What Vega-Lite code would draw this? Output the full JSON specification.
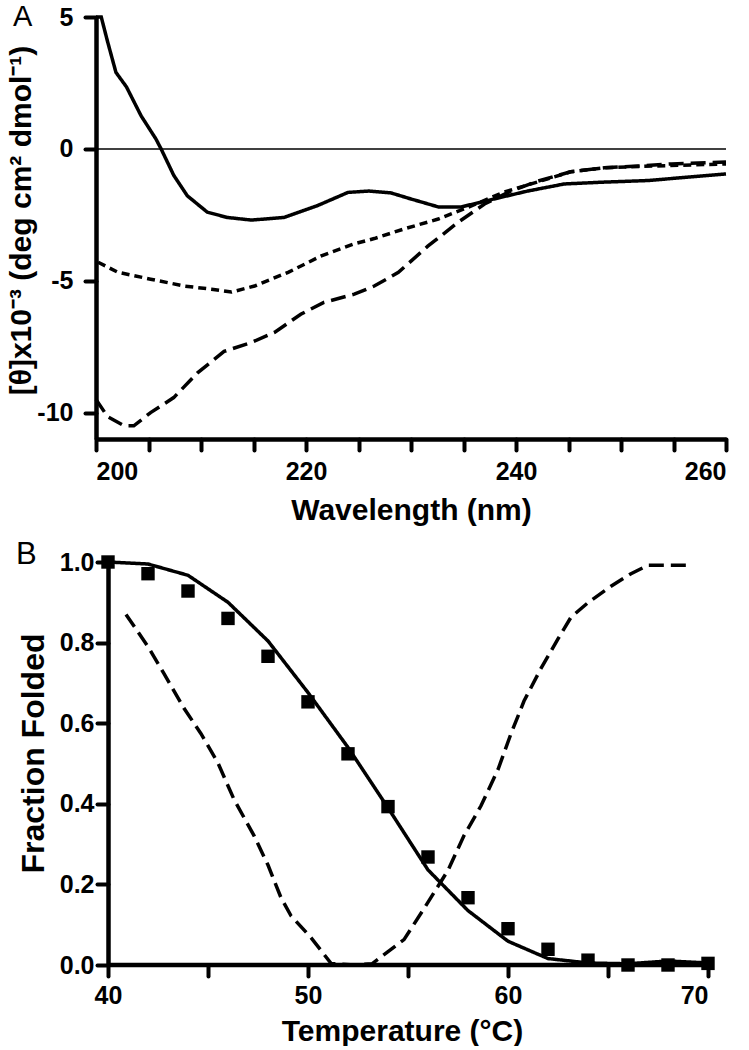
{
  "$schema": "https://vega.github.io/schema/vega-lite/v6.json",
  "background": "white",
  "padding": {"left": 5, "top": 3, "right": 0, "bottom": 0},
  "spacing": 14,
  "config": {
    "view": {"stroke": null},
    "axis": {
      "grid": false,
      "domainColor": "black",
      "domainWidth": 4.5,
      "tickColor": "black",
      "tickWidth": 4,
      "tickSize": 11,
      "tickCap": "round",
      "labelFont": "Liberation Sans",
      "labelFontSize": 25,
      "labelFontWeight": "bold",
      "labelColor": "black",
      "titleFont": "Liberation Sans",
      "titleFontSize": 30,
      "titleFontWeight": "bold",
      "titleColor": "black"
    },
    "title": {"font": "Liberation Sans", "fontWeight": "normal", "color": "black"}
  },
  "datasets": {
    "spectra": [
      {"nm": 200, "theta": 5.0, "series": "solid"},
      {"nm": 200.5, "theta": 5.0, "series": "solid"},
      {"nm": 201.1, "theta": 4.07, "series": "solid"},
      {"nm": 201.9, "theta": 2.9, "series": "solid"},
      {"nm": 202.9, "theta": 2.35, "series": "solid"},
      {"nm": 204.3, "theta": 1.25, "series": "solid"},
      {"nm": 205.7, "theta": 0.38, "series": "solid"},
      {"nm": 206.2, "theta": 0.0, "series": "solid"},
      {"nm": 207.4, "theta": -1.0, "series": "solid"},
      {"nm": 208.7, "theta": -1.78, "series": "solid"},
      {"nm": 210.6, "theta": -2.4, "series": "solid"},
      {"nm": 212.5, "theta": -2.6, "series": "solid"},
      {"nm": 214.8, "theta": -2.7, "series": "solid"},
      {"nm": 217.9, "theta": -2.6, "series": "solid"},
      {"nm": 221.1, "theta": -2.15, "series": "solid"},
      {"nm": 224.0, "theta": -1.65, "series": "solid"},
      {"nm": 226.0, "theta": -1.6, "series": "solid"},
      {"nm": 228.1, "theta": -1.67, "series": "solid"},
      {"nm": 230.0, "theta": -1.9, "series": "solid"},
      {"nm": 232.6, "theta": -2.2, "series": "solid"},
      {"nm": 234.8, "theta": -2.2, "series": "solid"},
      {"nm": 237.9, "theta": -1.9, "series": "solid"},
      {"nm": 241.1, "theta": -1.6, "series": "solid"},
      {"nm": 244.6, "theta": -1.33, "series": "solid"},
      {"nm": 248.4, "theta": -1.26, "series": "solid"},
      {"nm": 252.6, "theta": -1.2, "series": "solid"},
      {"nm": 256.4, "theta": -1.07, "series": "solid"},
      {"nm": 260.0, "theta": -0.95, "series": "solid"},
      {"nm": 200.2, "theta": -4.3, "series": "dotted"},
      {"nm": 202.1, "theta": -4.68, "series": "dotted"},
      {"nm": 205.2, "theta": -4.94, "series": "dotted"},
      {"nm": 208.4, "theta": -5.2, "series": "dotted"},
      {"nm": 211.0, "theta": -5.32, "series": "dotted"},
      {"nm": 212.9, "theta": -5.43, "series": "dotted"},
      {"nm": 215.1, "theta": -5.2, "series": "dotted"},
      {"nm": 218.3, "theta": -4.68, "series": "dotted"},
      {"nm": 221.4, "theta": -4.07, "series": "dotted"},
      {"nm": 224.6, "theta": -3.6, "series": "dotted"},
      {"nm": 226.5, "theta": -3.4, "series": "dotted"},
      {"nm": 229.3, "theta": -3.04, "series": "dotted"},
      {"nm": 232.6, "theta": -2.66, "series": "dotted"},
      {"nm": 235.7, "theta": -2.17, "series": "dotted"},
      {"nm": 238.9, "theta": -1.63, "series": "dotted"},
      {"nm": 242.1, "theta": -1.25, "series": "dotted"},
      {"nm": 245.2, "theta": -0.87, "series": "dotted"},
      {"nm": 248.4, "theta": -0.72, "series": "dotted"},
      {"nm": 253.1, "theta": -0.65, "series": "dotted"},
      {"nm": 260.0, "theta": -0.57, "series": "dotted"},
      {"nm": 200.0, "theta": -9.5, "series": "dashed"},
      {"nm": 201.1, "theta": -10.15, "series": "dashed"},
      {"nm": 202.7, "theta": -10.5, "series": "dashed"},
      {"nm": 203.6, "theta": -10.5, "series": "dashed"},
      {"nm": 205.2, "theta": -10.0, "series": "dashed"},
      {"nm": 207.4, "theta": -9.43, "series": "dashed"},
      {"nm": 209.7, "theta": -8.48, "series": "dashed"},
      {"nm": 212.2, "theta": -7.68, "series": "dashed"},
      {"nm": 214.8, "theta": -7.34, "series": "dashed"},
      {"nm": 217.0, "theta": -6.96, "series": "dashed"},
      {"nm": 219.5, "theta": -6.27, "series": "dashed"},
      {"nm": 221.7, "theta": -5.82, "series": "dashed"},
      {"nm": 224.6, "theta": -5.51, "series": "dashed"},
      {"nm": 226.5, "theta": -5.2, "series": "dashed"},
      {"nm": 228.8, "theta": -4.68, "series": "dashed"},
      {"nm": 231.6, "theta": -3.69, "series": "dashed"},
      {"nm": 234.5, "theta": -2.78, "series": "dashed"},
      {"nm": 237.0, "theta": -2.09, "series": "dashed"},
      {"nm": 239.5, "theta": -1.6, "series": "dashed"},
      {"nm": 242.1, "theta": -1.22, "series": "dashed"},
      {"nm": 245.2, "theta": -0.87, "series": "dashed"},
      {"nm": 248.4, "theta": -0.72, "series": "dashed"},
      {"nm": 251.6, "theta": -0.65, "series": "dashed"},
      {"nm": 254.8, "theta": -0.57, "series": "dashed"},
      {"nm": 260.0, "theta": -0.5, "series": "dashed"}
    ],
    "melt_lines": [
      {"T": 40, "f": 1.0, "series": "fit"},
      {"T": 42, "f": 0.995, "series": "fit"},
      {"T": 44, "f": 0.967, "series": "fit"},
      {"T": 46, "f": 0.9, "series": "fit"},
      {"T": 48, "f": 0.804, "series": "fit"},
      {"T": 50, "f": 0.676, "series": "fit"},
      {"T": 52, "f": 0.54, "series": "fit"},
      {"T": 54, "f": 0.39, "series": "fit"},
      {"T": 56, "f": 0.236, "series": "fit"},
      {"T": 58, "f": 0.135, "series": "fit"},
      {"T": 60, "f": 0.059, "series": "fit"},
      {"T": 62, "f": 0.016, "series": "fit"},
      {"T": 64, "f": 0.005, "series": "fit"},
      {"T": 66, "f": 0.003, "series": "fit"},
      {"T": 68, "f": 0.01, "series": "fit"},
      {"T": 70, "f": 0.005, "series": "fit"},
      {"T": 40.9, "f": 0.87, "series": "dashed"},
      {"T": 42.0, "f": 0.79, "series": "dashed"},
      {"T": 42.8, "f": 0.723, "series": "dashed"},
      {"T": 43.8, "f": 0.637, "series": "dashed"},
      {"T": 44.65, "f": 0.574, "series": "dashed"},
      {"T": 45.5, "f": 0.501, "series": "dashed"},
      {"T": 46.3, "f": 0.411, "series": "dashed"},
      {"T": 47.3, "f": 0.321, "series": "dashed"},
      {"T": 48.0, "f": 0.248, "series": "dashed"},
      {"T": 48.65, "f": 0.167, "series": "dashed"},
      {"T": 49.15, "f": 0.122, "series": "dashed"},
      {"T": 50.15, "f": 0.068, "series": "dashed"},
      {"T": 51.15, "f": 0.004, "series": "dashed"},
      {"T": 52.3, "f": 0.0, "series": "dashed"},
      {"T": 53.2, "f": 0.003, "series": "dashed"},
      {"T": 54.8, "f": 0.063, "series": "dashed"},
      {"T": 55.8, "f": 0.14, "series": "dashed"},
      {"T": 57.0, "f": 0.235, "series": "dashed"},
      {"T": 57.8, "f": 0.321, "series": "dashed"},
      {"T": 58.65, "f": 0.395, "series": "dashed"},
      {"T": 59.5, "f": 0.485, "series": "dashed"},
      {"T": 60.15, "f": 0.574, "series": "dashed"},
      {"T": 60.8, "f": 0.655, "series": "dashed"},
      {"T": 61.65, "f": 0.736, "series": "dashed"},
      {"T": 62.5, "f": 0.809, "series": "dashed"},
      {"T": 63.15, "f": 0.863, "series": "dashed"},
      {"T": 64.0, "f": 0.899, "series": "dashed"},
      {"T": 65.15, "f": 0.94, "series": "dashed"},
      {"T": 66.15, "f": 0.971, "series": "dashed"},
      {"T": 67.0, "f": 0.992, "series": "dashed"},
      {"T": 68.15, "f": 0.992, "series": "dashed"},
      {"T": 69.1, "f": 0.992, "series": "dashed"}
    ],
    "melt_pts": [
      {"T": 40, "f": 1.0},
      {"T": 42, "f": 0.971},
      {"T": 44, "f": 0.928},
      {"T": 46, "f": 0.86},
      {"T": 48, "f": 0.766},
      {"T": 50, "f": 0.653},
      {"T": 52, "f": 0.524},
      {"T": 54, "f": 0.393},
      {"T": 56, "f": 0.268},
      {"T": 58, "f": 0.167},
      {"T": 60, "f": 0.09},
      {"T": 62, "f": 0.039},
      {"T": 64, "f": 0.012},
      {"T": 66, "f": 0.0},
      {"T": 68, "f": 0.0},
      {"T": 70, "f": 0.004}
    ]
  },
  "vconcat": [
    {
      "width": 630,
      "height": 422,
      "title": {"text": "A", "anchor": "start", "frame": "group", "dx": -83, "fontSize": 29, "offset": -27},
      "layer": [
        {
          "data": {"values": [{}]},
          "mark": {"type": "rule", "color": "black", "strokeWidth": 1.5},
          "encoding": {"y": {"datum": 0, "type": "quantitative"}}
        },
        {
          "data": {"name": "spectra"},
          "mark": {"type": "line", "color": "black", "strokeWidth": 3.5},
          "encoding": {
            "x": {
              "field": "nm", "type": "quantitative",
              "scale": {"domain": [200, 260], "nice": false, "zero": false},
              "axis": {
                "title": "Wavelength (nm)",
                "values": [200, 205, 210, 215, 220, 225, 230, 235, 240, 245, 250, 255, 260],
                "labelExpr": "datum.value % 20 === 0 ? datum.label : ''",
                "labelPadding": 9,
                "titlePadding": 11
              }
            },
            "y": {
              "field": "theta", "type": "quantitative",
              "scale": {"domain": [-11, 5], "nice": false, "zero": false},
              "axis": {
                "title": "[θ]x10⁻³ (deg cm² dmol⁻¹)",
                "titleFontSize": 30,
                "titleX": -60,
                "titleY": 203,
                "values": [-10, -5, 0, 5],
                "labelExpr": "datum.value < 0 ? '-' + format(-datum.value, 'd') : datum.label",
                "labelPadding": 12
              }
            },
            "strokeDash": {
              "field": "series", "type": "nominal",
              "scale": {"domain": ["solid", "dotted", "dashed"], "range": [[1, 0], [8, 5], [15, 7]]},
              "legend": null
            }
          }
        }
      ]
    },
    {
      "width": 612,
      "height": 403,
      "title": {"text": "B", "anchor": "start", "frame": "group", "dx": -80, "fontSize": 31, "offset": -21},
      "layer": [
        {
          "data": {"values": [{}]},
          "mark": {"type": "rule", "color": "black", "strokeWidth": 4.5},
          "encoding": {
            "x": {"datum": 40, "type": "quantitative"},
            "x2": {"datum": 70},
            "y": {"datum": 0, "type": "quantitative"}
          }
        },
        {
          "data": {"name": "melt_lines"},
          "mark": {"type": "line", "color": "black", "strokeWidth": 3.5},
          "encoding": {
            "x": {
              "field": "T", "type": "quantitative",
              "scale": {"domain": [39.4, 70], "nice": false, "zero": false},
              "axis": {
                "title": "Temperature (°C)",
                "domain": false,
                "values": [40, 45, 50, 55, 60, 65, 70],
                "labelExpr": "datum.value % 10 === 0 ? datum.label : ''",
                "labelPadding": 7,
                "titlePadding": 8
              }
            },
            "y": {
              "field": "f", "type": "quantitative",
              "scale": {"domain": [0, 1], "nice": false},
              "axis": {
                "title": "Fraction Folded",
                "offset": -12,
                "titleFontSize": 32,
                "titleX": -58,
                "titleY": 191,
                "values": [0, 0.2, 0.4, 0.6, 0.8, 1.0],
                "format": ".1f",
                "labelPadding": 3
              }
            },
            "strokeDash": {
              "field": "series", "type": "nominal",
              "scale": {"domain": ["fit", "dashed"], "range": [[1, 0], [15, 8]]},
              "legend": null
            }
          }
        },
        {
          "data": {"name": "melt_pts"},
          "mark": {"type": "point", "shape": "square", "filled": true, "size": 180, "color": "black", "opacity": 1},
          "encoding": {
            "x": {"field": "T", "type": "quantitative"},
            "y": {"field": "f", "type": "quantitative"}
          }
        }
      ]
    }
  ]
}
